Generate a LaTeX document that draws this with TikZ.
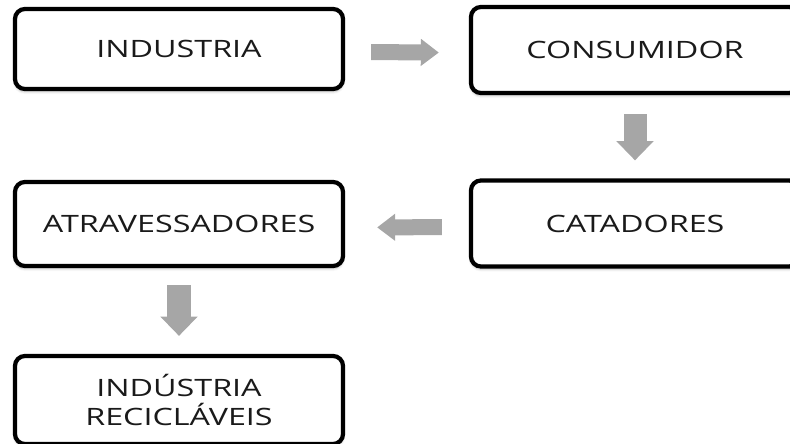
\documentclass[tikz,border=0pt]{standalone}
\usepackage{fontspec}
\newfontfamily\boxfont{Open Sans}[FakeStretch=1.35]
\usetikzlibrary{arrows.meta}
\usetikzlibrary{shadows.blur}

\definecolor{flowgray}{HTML}{A6A6A6}
\definecolor{boxtext}{HTML}{1A1A1A}

\tikzset{
	stage/.style={draw=black, line width=3pt, rounded corners=0.25cm, fill=white,
		minimum width=8.2cm, minimum height=2cm, align=center, text=boxtext,
		font=\boxfont\fontsize{17}{21}\selectfont,
		blur shadow={shadow xshift=0pt, shadow yshift=-2pt, shadow opacity=25, shadow blur steps=6}},
	hflow/.style={draw=flowgray, line width=0.4cm, -{Triangle[width=0.65cm,length=0.45cm]}},
	vflow/.style={draw=flowgray, line width=0.575cm, -{Triangle[width=0.9cm,length=0.48cm]}}
}

\begin{document}
\begin{tikzpicture}[x=0.025cm,y=-0.025cm]
	% frame of the picture
	\clip (0,0) rectangle (790,443);

	% the stages
	\node[stage] (ind) at (179,49) {INDUSTRIA};
	\node[stage, minimum height=2.15cm] (cons) at (635,50) {CONSUMIDOR};
	\node[stage, minimum height=2.15cm] (cat) at (635,223.5) {CATADORES};
	\node[stage, minimum height=2.1cm] (atr) at (179,224) {ATRAVESSADORES};
	\node[stage, minimum height=2.2cm] (rec) at (179,400) {IND\'USTRIA\\RECICL\'AVEIS};

	% the flow between them
	\draw[hflow, shorten <=0.65cm, shorten >=0.75cm] ([yshift=-2pt]ind.east) -- ([yshift=-2pt]cons.west);
	\draw[vflow, shorten <=0.475cm, shorten >=0.45cm] (cons) -- (cat);
	\draw[hflow, shorten <=0.675cm, shorten >=0.8cm] ([yshift=-2.5pt]cat.west) -- ([yshift=-2.5pt]atr.east);
	\draw[vflow, shorten <=0.425cm, shorten >=0.45cm] (atr) -- (rec);
\end{tikzpicture}
\end{document}
